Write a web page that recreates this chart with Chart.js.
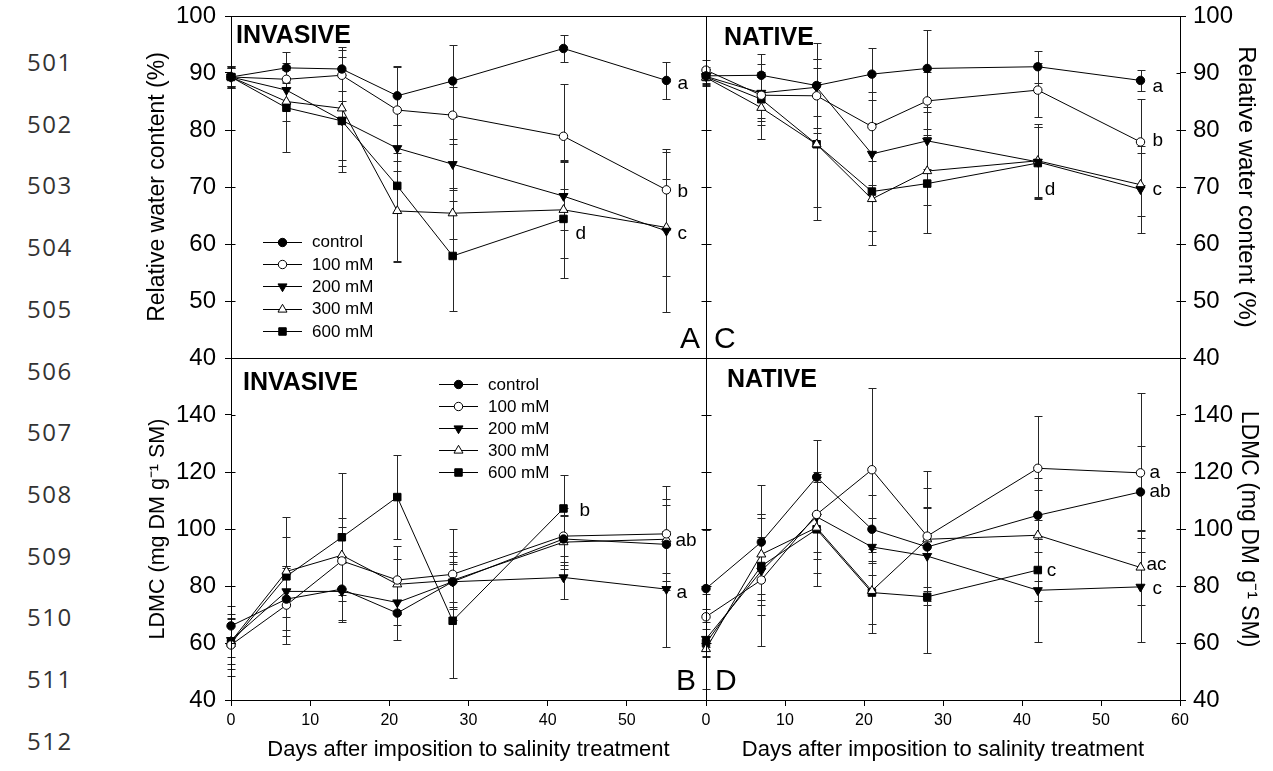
<!DOCTYPE html>
<html><head><meta charset="utf-8">
<script src="https://cdn.jsdelivr.net/npm/chart.js@4.4.1/dist/chart.umd.min.js"></script>
<style>
body{margin:0;background:#fff;width:1273px;height:771px;overflow:hidden;position:relative;font-family:"Liberation Sans",Arial,sans-serif;}
.wrap{position:absolute;}
.ln{position:absolute;left:27px;font-family:"Open Sans",sans-serif;font-size:24px;letter-spacing:1.5px;color:#333;line-height:24px;}
</style></head><body>
<div id="lines"></div>
<div class="wrap" style="left:120px;top:0px;width:600px;height:372px"><canvas id="cA"></canvas></div>
<div class="wrap" style="left:690px;top:0px;width:583px;height:372px"><canvas id="cC"></canvas></div>
<div class="wrap" style="left:120px;top:340px;width:600px;height:431px"><canvas id="cB"></canvas></div>
<div class="wrap" style="left:690px;top:340px;width:583px;height:431px"><canvas id="cD"></canvas></div>
<script>
// ---------- data ----------
const days = [0, 7, 14, 21, 28, 42, 55];
const treatments = ['control', '100 mM', '200 mM', '300 mM', '600 mM'];
const lineNumbers = ['501','502','503','504','505','506','507','508','509','510','511','512'];

// A: invasive, relative water content (%)
const invRwcControl = [89.3, 90.9, 90.7, 86.0, 88.6, 94.3, 88.7];
const invRwc100 = [89.3, 88.9, 89.6, 83.5, 82.6, 78.9, 69.5];
const invRwc200 = [89.3, 87.0, 81.7, 76.8, 74.0, 68.4, 62.3];
const invRwc300 = [89.3, 85.0, 83.8, 65.8, 65.4, 66.0, 62.9];
const invRwc600 = [89.3, 83.9, 81.6, 70.2, 57.9, 64.4, null];
const invRwcErrControl = [2.0, 2.7, 3.8, 5.2, 6.3, 2.4, 3.2];
const invRwcErr100 = [1.8, 1.6, 4.5, 7.5, 5.0, 9.2, 6.7];
const invRwcErr200 = [1.5, 2.0, 8.0, 4.0, 4.5, 6.0, 14.3];
const invRwcErr300 = [2.0, 3.5, 9.0, 8.8, 4.5, 8.5, 8.5];
const invRwcErr600 = [1.5, 7.8, 9.0, 13.3, 9.7, 10.4, null];
const invRwcSigDays = [55, 55, 55, 42];
const invRwcSigVals = [88.1, 69.1, 61.8, 61.8];
const invRwcSigText = ['a', 'b', 'c', 'd'];

// C: native, relative water content (%)
const natRwcControl = [89.5, 89.6, 87.8, 89.8, 90.8, 91.1, 88.7];
const natRwc100 = [90.5, 86.1, 86.0, 80.6, 85.1, 87.0, 77.9];
const natRwc200 = [89.4, 86.5, 87.5, 75.8, 78.1, 74.4, 69.6];
const natRwc300 = [89.2, 83.9, 77.5, 67.9, 72.8, 74.6, 70.4];
const natRwc600 = [89.3, 85.4, 77.5, 69.2, 70.6, 74.2, null];
const natRwcErrControl = [1.5, 3.7, 7.4, 4.5, 6.7, 2.8, 1.9];
const natRwcErr100 = [1.8, 4.0, 6.5, 6.0, 5.0, 4.8, 7.5];
const natRwcErr200 = [1.2, 5.0, 5.0, 5.5, 5.0, 6.2, 7.6];
const natRwcErr300 = [1.5, 5.4, 11.0, 8.0, 6.0, 6.5, 5.5];
const natRwcErr600 = [1.4, 4.5, 13.3, 7.0, 8.6, 6.3, null];
const natRwcSigDays = [55, 55, 55, 42];
const natRwcSigVals = [87.5, 78.1, 69.5, 69.5];
const natRwcSigText = ['a', 'b', 'c', 'd'];

// B: invasive, LDMC (mg DM g-1 SM)
const invLdmcControl = [66.0, 75.4, 78.9, 70.5, 81.5, 96.5, 94.6];
const invLdmc100 = [59.3, 73.3, 88.8, 82.1, 84.1, 97.5, 98.3];
const invLdmc200 = [61.0, 78.1, 78.1, 74.2, 81.5, 83.0, 78.9];
const invLdmc300 = [60.5, 85.1, 90.8, 80.6, 82.0, 95.4, 96.4];
const invLdmc600 = [59.9, 83.4, 97.1, 111.2, 67.8, 107.2, null];
const invLdmcErrControl = [7.0, 11.0, 11.7, 9.5, 9.0, 8.0, 16.0];
const invLdmcErr100 = [11.0, 13.6, 12.0, 12.0, 16.0, 10.0, 16.7];
const invLdmcErr200 = [6.0, 9.0, 10.0, 8.0, 7.0, 7.4, 20.4];
const invLdmcErr300 = [8.0, 12.0, 13.0, 9.0, 10.0, 9.5, 12.0];
const invLdmcErr600 = [9.0, 20.8, 22.4, 14.6, 20.0, 11.7, null];
const invLdmcSigDays = [42, 55, 55];
const invLdmcSigVals = [106.5, 96.0, 77.8];
const invLdmcSigText = ['b', 'ab', 'a'];

// D: native, LDMC (mg DM g-1 SM)
const natLdmcControl = [79.1, 95.4, 118.2, 99.9, 93.7, 104.8, 113.0];
const natLdmc100 = [69.2, 82.1, 105.1, 120.8, 97.5, 121.3, 119.7];
const natLdmc200 = [61.4, 85.3, 104.3, 93.7, 90.5, 78.5, 79.7];
const natLdmc300 = [57.9, 91.1, 100.5, 78.3, 96.4, 97.8, 86.5];
const natLdmc600 = [60.0, 87.0, 99.9, 77.7, 76.2, 85.6, null];
const natLdmcErrControl = [20.5, 20.2, 13.1, 12.0, 14.0, 13.0, 16.0];
const natLdmcErr100 = [8.0, 23.3, 13.0, 28.8, 22.8, 18.2, 27.9];
const natLdmcErr200 = [6.0, 12.0, 15.0, 10.0, 17.0, 18.0, 19.5];
const natLdmcErr300 = [14.0, 14.0, 16.0, 14.8, 18.0, 16.0, 13.0];
const natLdmcErr600 = [5.0, 17.0, 20.0, 11.0, 19.8, 11.0, null];
const natLdmcSigDays = [55, 55, 55, 55, 42];
const natLdmcSigVals = [119.8, 113.1, 87.6, 79.2, 85.5];
const natLdmcSigText = ['a', 'ab', 'ac', 'c', 'c'];

const rwcTicks = [40, 50, 60, 70, 80, 90, 100];
const ldmcTicks = [40, 60, 80, 100, 120, 140];
const dayTicks = [0, 10, 20, 30, 40, 50, 60];

// ---------- styling ----------
const FONT = '"Liberation Sans", Arial, sans-serif';
const markerStyles = [
  {pointStyle: 'circle', bg: '#000', r: 4.2, rot: 0},
  {pointStyle: 'circle', bg: '#fff', r: 4.2, rot: 0},
  {pointStyle: 'triangle', bg: '#000', r: 5.2, rot: 180},
  {pointStyle: 'triangle', bg: '#fff', r: 5.2, rot: 0},
  {pointStyle: 'rect', bg: '#000', r: 5.3, rot: 0}
];

document.getElementById('lines').innerHTML = lineNumbers.map((t, i) =>
  '<div class="ln" style="top:' + (50 + i * 61.7) + 'px">' + t + '</div>').join('');

function makeDatasets(series, errs) {
  return series.map((s, k) => {
    const st = markerStyles[k];
    return {
      label: treatments[k],
      data: days.map((d, i) => ({x: d, y: s[i]})),
      errors: errs[k],
      borderColor: '#000', borderWidth: 1,
      backgroundColor: st.bg,
      pointBackgroundColor: st.bg, pointBorderColor: '#000', pointBorderWidth: 1,
      pointStyle: st.pointStyle, pointRadius: st.r, pointHoverRadius: st.r,
      pointRotation: st.rot, tension: 0, clip: false, spanGaps: false
    };
  });
}

function drawMarker(ctx, st, x, y) {
  ctx.save();
  ctx.fillStyle = st.bg; ctx.strokeStyle = '#000'; ctx.lineWidth = 1;
  ctx.beginPath();
  if (st.pointStyle === 'circle') {
    ctx.arc(x, y, st.r, 0, Math.PI * 2);
  } else if (st.pointStyle === 'rect') {
    const s = st.r * Math.SQRT1_2;
    ctx.rect(x - s, y - s, 2 * s, 2 * s);
  } else {
    let rad = st.rot * Math.PI / 180;
    for (let j = 0; j < 3; j++) {
      const px = x + Math.sin(rad) * st.r, py = y - Math.cos(rad) * st.r;
      j === 0 ? ctx.moveTo(px, py) : ctx.lineTo(px, py);
      rad += 2 * Math.PI / 3;
    }
    ctx.closePath();
  }
  ctx.fill(); ctx.stroke();
  ctx.restore();
}

const errorBarPlugin = {
  id: 'errorBars',
  beforeDatasetsDraw(chart) {
    const {ctx, scales: {x, y}} = chart;
    ctx.save();
    ctx.strokeStyle = '#262626'; ctx.lineWidth = 1;
    chart.data.datasets.forEach(ds => {
      ds.data.forEach((p, i) => {
        const e = ds.errors[i];
        if (p.y == null || e == null) return;
        const px = Math.round(x.getPixelForValue(p.x)) + 0.5;
        const y1 = Math.round(y.getPixelForValue(p.y - e)) + 0.5;
        const y2 = Math.round(y.getPixelForValue(p.y + e)) + 0.5;
        ctx.beginPath();
        ctx.moveTo(px, y1); ctx.lineTo(px, y2);
        ctx.moveTo(px - 4, y1); ctx.lineTo(px + 4, y1);
        ctx.moveTo(px - 4, y2); ctx.lineTo(px + 4, y2);
        ctx.stroke();
      });
    });
    ctx.restore();
  }
};

const panelPlugin = {
  id: 'panel',
  afterDraw(chart, args, o) {
    const {ctx, chartArea: a, scales: {x, y}} = chart;
    ctx.save();
    ctx.strokeStyle = '#000'; ctx.lineWidth = 1;
    ctx.strokeRect(Math.round(a.left) + 0.5, Math.round(a.top) + 0.5,
      Math.round(a.right - a.left), Math.round(a.bottom - a.top));
    // inner halves of the y ticks (ticks cross the axis lines)
    ctx.beginPath();
    y.ticks.forEach(t => {
      const ty = Math.round(y.getPixelForValue(t.value)) + 0.5;
      if (o.axisSide === 'left') {
        const ax = Math.round(a.left) + 0.5;
        ctx.moveTo(ax, ty); ctx.lineTo(ax + 4, ty);
      } else {
        const ax = Math.round(a.right) + 0.5;
        ctx.moveTo(ax - 4, ty); ctx.lineTo(ax, ty);
        const lx = Math.round(a.left) + 0.5;
        ctx.moveTo(lx - 5, ty); ctx.lineTo(lx + 5, ty);
      }
    });
    ctx.stroke();
    ctx.fillStyle = '#000';
    ctx.textBaseline = 'alphabetic';
    ctx.font = 'bold 25px ' + FONT; ctx.textAlign = 'left';
    ctx.fillText(o.title, a.left + o.titleDx, a.top + o.titleDy);
    ctx.font = '30px ' + FONT;
    ctx.textAlign = o.letterAlign;
    ctx.fillText(o.letter, o.letterAlign === 'right' ? a.right - o.letterDx : a.left + o.letterDx, a.bottom - 10);
    ctx.font = '19px ' + FONT; ctx.textAlign = 'left'; ctx.textBaseline = 'middle';
    o.sigDays.forEach((d, i) => {
      ctx.fillText(o.sigText[i], x.getPixelForValue(d) + o.sigDx[i], y.getPixelForValue(o.sigVals[i]));
    });
    if (o.legend) {
      const L = o.legend;
      ctx.font = '17px ' + FONT;
      chart.data.datasets.forEach((ds, k) => {
        const ly = a.top + L.dy + k * L.step;
        const lx = a.left + L.dx;
        ctx.beginPath();
        ctx.moveTo(lx, Math.round(ly) + 0.5); ctx.lineTo(lx + 39, Math.round(ly) + 0.5);
        ctx.stroke();
        drawMarker(ctx, markerStyles[k], lx + 19.5, Math.round(ly) + 0.5);
        ctx.fillStyle = '#000';
        ctx.fillText(ds.label, lx + 49, ly + 1);
      });
    }
    ctx.restore();
  }
};

function makeChart(id, cfg) {
  const isRight = cfg.side === 'right';
  const yScale = {
    type: 'linear', position: cfg.side, min: cfg.ymin, max: cfg.ymax,
    afterBuildTicks: s => { s.ticks = cfg.yTicks.concat(cfg.ymax > cfg.yTicks[cfg.yTicks.length - 1] ? [cfg.ymax] : []).map(v => ({value: v})); },
    afterFit: s => { s.width = cfg.yWidth; s.paddingTop = 0; s.paddingBottom = 0; },
    grid: {display: true, drawOnChartArea: false, drawTicks: true, tickLength: 6, color: '#000', tickColor: '#000'},
    border: {display: true, color: '#000', width: 1},
    ticks: {
      color: '#000', font: {family: FONT, size: 24}, padding: isRight ? 7 : 9,
      callback: v => (cfg.yTicks.indexOf(v) >= 0 ? String(v) : '')
    },
    title: {display: true, text: cfg.yTitle, color: '#000', font: {family: FONT, size: cfg.yTitleSize},
      padding: {top: cfg.yTitlePad, bottom: 0}}
  };
  const xScale = {
    type: 'linear', position: 'bottom', min: 0, max: 60, display: cfg.showX,
    afterBuildTicks: s => { s.ticks = dayTicks.map(v => ({value: v})); },
    afterFit: s => { if (cfg.showX) { s.height = 71; } },
    grid: {display: true, drawOnChartArea: false, drawTicks: true, tickLength: 6, color: '#000', tickColor: '#000'},
    border: {display: true, color: '#000', width: 1},
    ticks: {color: '#000', font: {family: FONT, size: 16}, padding: 5, maxRotation: 0,
      callback: v => (cfg.hideLastX && v === 60 ? '' : String(v))},
    title: {display: true, text: 'Days after imposition to salinity treatment', color: '#000', font: {family: FONT, size: 22}, padding: {top: 0, bottom: 8}}
  };
  cfg.panel.axisSide = cfg.side;
  return new Chart(document.getElementById(id), {
    type: 'line',
    data: {datasets: makeDatasets(cfg.series, cfg.errs)},
    options: {
      responsive: true, maintainAspectRatio: false, animation: false, events: [],
      layout: {padding: cfg.padding},
      scales: {x: xScale, y: yScale},
      plugins: {legend: {display: false}, tooltip: {enabled: false}, panel: cfg.panel}
    },
    plugins: [errorBarPlugin, panelPlugin]
  });
}

makeChart('cA', {
  side: 'left', ymin: 40, ymax: 100, yTicks: rwcTicks, yWidth: 111, showX: false,
  yTitle: 'Relative water content (%)', yTitleSize: 23, yTitlePad: 24,
  padding: {left: 0, top: 16, right: 14, bottom: 14},
  series: [invRwcControl, invRwc100, invRwc200, invRwc300, invRwc600],
  errs: [invRwcErrControl, invRwcErr100, invRwcErr200, invRwcErr300, invRwcErr600],
  panel: {title: 'INVASIVE', titleDx: 5, titleDy: 27, letter: 'A', letterAlign: 'right', letterDx: 6,
    sigDays: invRwcSigDays, sigVals: invRwcSigVals, sigText: invRwcSigText, sigDx: [11, 11, 11, 12],
    legend: {dx: 32, dy: 225.7, step: 22.3}}
});
makeChart('cC', {
  side: 'right', ymin: 40, ymax: 100, yTicks: rwcTicks, yWidth: 93, showX: false,
  yTitle: 'Relative water content (%)', yTitleSize: 24, yTitlePad: 13,
  padding: {left: 16, top: 16, right: 0, bottom: 14},
  series: [natRwcControl, natRwc100, natRwc200, natRwc300, natRwc600],
  errs: [natRwcErrControl, natRwcErr100, natRwcErr200, natRwcErr300, natRwcErr600],
  panel: {title: 'NATIVE', titleDx: 18, titleDy: 29, letter: 'C', letterAlign: 'left', letterDx: 8,
    sigDays: natRwcSigDays, sigVals: natRwcSigVals, sigText: natRwcSigText, sigDx: [12, 12, 12, 7],
    legend: null}
});
makeChart('cB', {
  side: 'left', ymin: 40, ymax: 160, yTicks: ldmcTicks, yWidth: 111, showX: true, hideLastX: true,
  yTitle: 'LDMC (mg DM g\u207B\u00B9 SM)', yTitleSize: 21.5, yTitlePad: 25,
  padding: {left: 0, top: 18, right: 14, bottom: 0},
  series: [invLdmcControl, invLdmc100, invLdmc200, invLdmc300, invLdmc600],
  errs: [invLdmcErrControl, invLdmcErr100, invLdmcErr200, invLdmcErr300, invLdmcErr600],
  panel: {title: 'INVASIVE', titleDx: 12, titleDy: 32, letter: 'B', letterAlign: 'right', letterDx: 10,
    sigDays: invLdmcSigDays, sigVals: invLdmcSigVals, sigText: invLdmcSigText, sigDx: [16, 9, 10],
    legend: {dx: 208, dy: 26.3, step: 22}}
});
makeChart('cD', {
  side: 'right', ymin: 40, ymax: 160, yTicks: ldmcTicks, yWidth: 93, showX: true, hideLastX: false,
  yTitle: 'LDMC (mg DM g\u207B\u00B9 SM)', yTitleSize: 23, yTitlePad: 11,
  padding: {left: 16, top: 18, right: 0, bottom: 0},
  series: [natLdmcControl, natLdmc100, natLdmc200, natLdmc300, natLdmc600],
  errs: [natLdmcErrControl, natLdmcErr100, natLdmcErr200, natLdmcErr300, natLdmcErr600],
  panel: {title: 'NATIVE', titleDx: 21, titleDy: 29, letter: 'D', letterAlign: 'left', letterDx: 9,
    sigDays: natLdmcSigDays, sigVals: natLdmcSigVals, sigText: natLdmcSigText, sigDx: [9, 9, 6, 12, 9],
    legend: null}
});
</script>
</body></html>
